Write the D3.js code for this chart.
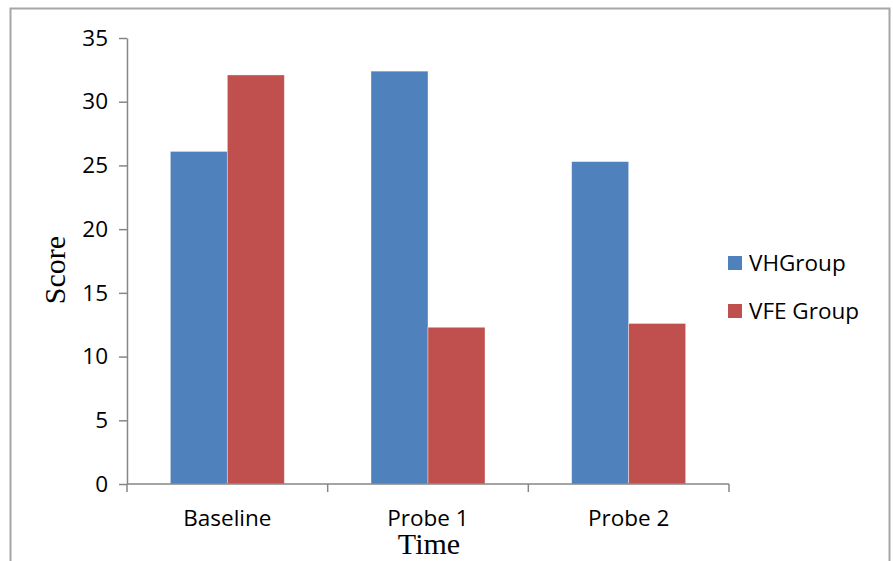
<!DOCTYPE html>
<html>
<head>
<meta charset="utf-8">
<script src="https://cdn.jsdelivr.net/npm/d3@7"></script>
<style>
  html, body { margin: 0; padding: 0; background: #fff; }
  svg { display: block; }
</style>
</head>
<body>
<div id="chart"></div>
<script>
// Scores per time point
const categories = ['Baseline', 'Probe 1', 'Probe 2'];
const seriesNames = ['VHGroup', 'VFE Group'];
const vhGroup  = [26.1, 32.4, 25.3];
const vfeGroup = [32.1, 12.3, 12.6];
const yTicks = [0, 5, 10, 15, 20, 25, 30, 35];

const colors = ['#4F81BD', '#C0504D'];
const W = 893, H = 561;
const plot = { left: 127, right: 729, top: 38, bottom: 484 };
const sans = '"Open Sans", Lato, sans-serif';
const serif = '"Liberation Serif", "Times New Roman", serif';
const fs = 22.5;

const svg = d3.select('#chart').append('svg')
  .attr('width', W).attr('height', H);

// outer frame
svg.append('rect')
  .attr('x', 10.5).attr('y', 8.5)
  .attr('width', 879).attr('height', 570)
  .attr('fill', 'none').attr('stroke', '#a6a6a6').attr('stroke-width', 2);

const x = d3.scaleBand().domain(categories).range([plot.left, plot.right]).paddingInner(0);
const y = d3.scaleLinear().domain([0, 35]).range([plot.bottom, plot.top]);

// bars: two series per category, Excel-style gap width
const barW = 57;
const rows = categories.map((c, i) => ({ cat: c, values: [vhGroup[i], vfeGroup[i]] }));

const groups = svg.append('g').selectAll('g')
  .data(rows).join('g')
  .attr('transform', d => `translate(${x(d.cat) + x.bandwidth() / 2 - barW},0)`);

groups.selectAll('rect')
  .data(d => d.values)
  .join('rect')
  .attr('x', (d, j) => j * barW)
  .attr('y', d => y(d))
  .attr('width', barW)
  .attr('height', d => y(0) - y(d))
  .attr('fill', (d, j) => colors[j])
  .attr('stroke', '#ffffff')
  .attr('stroke-opacity', 0.5)
  .attr('stroke-width', 0.75);

// y axis
const yAxis = svg.append('g')
  .attr('transform', `translate(${plot.left},0)`)
  .call(d3.axisLeft(y).tickValues(yTicks).tickSize(8).tickPadding(11).tickSizeOuter(0));
yAxis.select('.domain').attr('stroke', '#868686').attr('stroke-width', 1.5);
yAxis.selectAll('.tick line').attr('stroke', '#868686').attr('stroke-width', 1.5);
yAxis.selectAll('.tick text')
  .attr('font-family', sans)
  .attr('font-size', fs).attr('fill', '#000');

// x axis: ticks between categories
const xAxisG = svg.append('g').attr('transform', `translate(0,${plot.bottom})`);
xAxisG.append('line')
  .attr('x1', plot.left).attr('x2', plot.right)
  .attr('stroke', '#868686').attr('stroke-width', 1.5);
const bounds = categories.map(c => x(c)).concat([x(categories[categories.length - 1]) + x.bandwidth()]);
xAxisG.selectAll('line.tick')
  .data(bounds).join('line')
  .attr('class', 'tick')
  .attr('x1', d => d).attr('x2', d => d)
  .attr('y1', 0).attr('y2', 8)
  .attr('stroke', '#868686').attr('stroke-width', 1.5);
xAxisG.selectAll('text')
  .data(categories).join('text')
  .attr('x', d => x(d) + x.bandwidth() / 2)
  .attr('y', 42)
  .attr('text-anchor', 'middle')
  .attr('font-family', sans)
  .attr('font-size', fs)
  .text(d => d);

// axis titles
svg.append('text')
  .attr('x', 429).attr('y', 554)
  .attr('text-anchor', 'middle')
  .attr('font-family', serif)
  .attr('font-size', 30)
  .text('Time');

svg.append('text')
  .attr('transform', 'translate(65,270) rotate(-90)')
  .attr('text-anchor', 'middle')
  .attr('font-family', serif)
  .attr('font-size', 30)
  .text('Score');

// legend
const legend = svg.append('g').attr('transform', 'translate(728,256)');
const items = legend.selectAll('g')
  .data(seriesNames).join('g')
  .attr('transform', (d, i) => `translate(0,${i * 48})`);
items.append('rect')
  .attr('width', 14).attr('height', 14)
  .attr('fill', (d, i) => colors[i]);
items.append('text')
  .attr('x', 21).attr('y', 7)
  .attr('dy', '0.35em')
  .attr('font-family', sans)
  .attr('font-size', fs)
  .text(d => d);
</script>
</body>
</html>
